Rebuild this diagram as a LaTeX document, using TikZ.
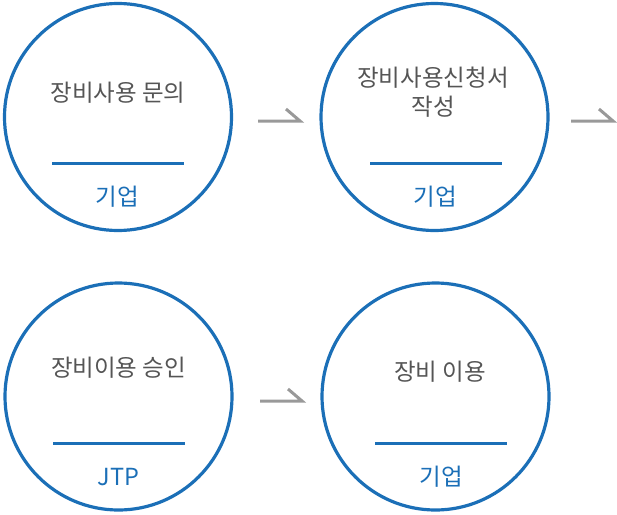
\documentclass[tikz,border=0pt]{standalone}
\usepackage{fontspec}
\newfontfamily\kr{Noto Sans CJK KR}
\usetikzlibrary{positioning}
\definecolor{jtpblue}{HTML}{1B6FB7}
\definecolor{txtgray}{HTML}{555555}
\definecolor{arrgray}{HTML}{999999}
\tikzstyle{stage} = [circle, draw=jtpblue, line width=3.2pt, minimum size=227pt, inner sep=0pt]
\tikzstyle{title} = [text=txtgray, font=\kr\fontsize{23.5}{28.5}\selectfont, align=center, inner sep=0pt]
\tikzstyle{who} = [text=jtpblue, font=\kr\fontsize{23.5}{28}\selectfont, inner sep=0pt]
\tikzstyle{bar} = [rectangle, fill=jtpblue, minimum width=132pt, minimum height=3pt, inner sep=0pt]
\tikzstyle{arrow} = [draw=arrgray, line width=3pt]

\begin{document}
\begin{tikzpicture}[x=1pt,y=-1pt]
\useasboundingbox (0,0) rectangle (617,514);

\node (inquiry) [stage] at (118,117) {};
\node (apply) [stage] at (434.5,117) {};
\node (approve) [stage] at (118.5,396.5) {};
\node (use) [stage] at (435.5,396.5) {};

\node (t1) [title] at (118,93) {장비사용 문의};
\node (t2) [title] at (433,92) {장비사용신청서\\작성};
\node (t3) [title] at (118.5,368) {장비이용 승인};
\node (t4) [title] at (440,372) {장비 이용};

\node (b1) [bar] at (118,163) {};
\node (b2) [bar] at (436,163) {};
\node (b3) [bar] at (118.5,443.5) {};
\node (b4) [bar] at (441,443.5) {};

\node (w1) [who] at (117,197) {기업};
\node (w2) [who] at (435,197) {기업};
\node (w3) [who] at (118.5,477) {JTP};
\node (w4) [who] at (441,477) {기업};

\coordinate (a1s) at (258,121);
\coordinate (a1e) at (300,121);
\coordinate (a2s) at (571,121);
\coordinate (a2e) at (613,121);
\coordinate (a3s) at (260,401);
\coordinate (a3e) at (302,401);

\draw [arrow] (a1s) -- (a1e) -- ++(-14,-12);
\draw [arrow] (a2s) -- (a2e) -- ++(-14,-12);
\draw [arrow] (a3s) -- (a3e) -- ++(-14,-12);

\end{tikzpicture}
\end{document}
